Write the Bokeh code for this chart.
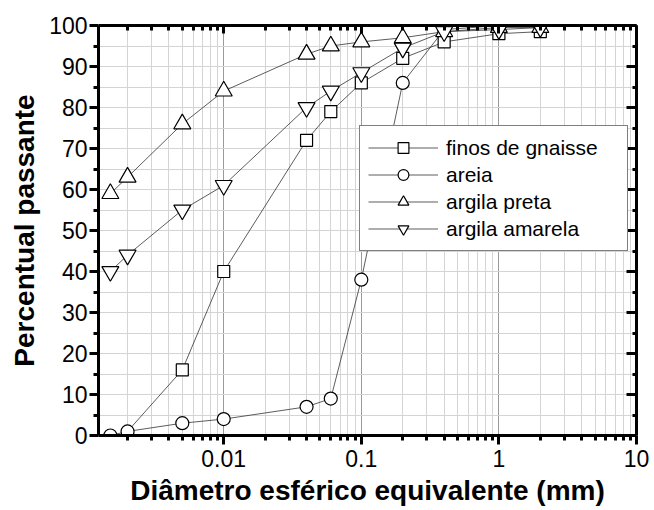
from bokeh.plotting import figure
from bokeh.models import (FixedTicker, LogAxis, LinearAxis, Legend, LegendItem,
                          ColumnDataSource, Range1d, CDSView, IndexFilter)
from bokeh.embed import file_html
from bokeh.resources import INLINE

# ---- data ----
diam_finos = [0.002, 0.005, 0.01, 0.04, 0.06, 0.1, 0.2, 0.4, 1, 2]
pass_finos = [1, 16, 40, 72, 79, 86, 92, 96, 98, 98.5]

diam_areia = [0.0015, 0.002, 0.005, 0.01, 0.04, 0.06, 0.1, 0.2, 0.4, 1, 2]
pass_areia = [0, 1, 3, 4, 7, 9, 38, 86, 99, 100, 100]

diam_preta = [0.0015, 0.002, 0.005, 0.01, 0.04, 0.06, 0.1, 0.2, 0.4, 1, 2]
pass_preta = [59, 63, 76, 84, 93, 95, 96, 97, 98.5, 99.5, 99.5]

diam_amarela = [0.0015, 0.002, 0.005, 0.01, 0.04, 0.06, 0.1, 0.2, 0.4, 1, 2]
pass_amarela = [40, 44, 55, 61, 80, 84, 88.5, 94.5, 98.5, 99, 99.5]

series_names = ["finos de gnaisse", "areia", "argila preta", "argila amarela"]

x_ticks = [0.01, 0.1, 1, 10]
x_tick_labels = ["0.01", "0.1", "1", "10"]
x_minor_ticks = [0.002, 0.003, 0.004, 0.005, 0.006, 0.007, 0.008, 0.009,
                 0.02, 0.03, 0.04, 0.05, 0.06, 0.07, 0.08, 0.09,
                 0.2, 0.3, 0.4, 0.5, 0.6, 0.7, 0.8, 0.9,
                 2, 3, 4, 5, 6, 7, 8, 9]
y_ticks = [0, 10, 20, 30, 40, 50, 60, 70, 80, 90, 100]
y_minor_ticks = [5, 15, 25, 35, 45, 55, 65, 75, 85, 95]

FONT = "Liberation Sans"

p = figure(x_axis_type="log", output_backend="svg", toolbar_location=None,
           x_range=Range1d(0.00123, 10), y_range=Range1d(0, 100),
           frame_width=538, frame_height=410,
           min_border_left=98, min_border_right=16, min_border_top=25,
           min_border_bottom=50)
p.background_fill_color = "white"
p.border_fill_color = "white"
p.outline_line_color = None

xt = FixedTicker(ticks=x_ticks, minor_ticks=x_minor_ticks)
yt = FixedTicker(ticks=y_ticks, minor_ticks=y_minor_ticks)

# bottom axis
xa = p.xaxis[0]
xa.ticker = xt
xa.major_label_overrides = dict(zip(x_ticks, x_tick_labels))
xa.axis_label = "Diâmetro esférico equivalente (mm)"
# left axis
ya = p.yaxis[0]
ya.ticker = yt
ya.axis_label = "Percentual passante"

for ax in (xa, ya):
    ax.axis_line_width = 3
    ax.axis_line_color = "black"
    ax.major_tick_in = 0
    ax.major_tick_out = 9
    ax.minor_tick_in = 0
    ax.minor_tick_out = 5
    ax.major_tick_line_width = 3
    ax.minor_tick_line_width = 3
    ax.major_label_text_font = FONT
    ax.major_label_text_font_size = "23px"
    ax.major_label_text_color = "black"
    ax.axis_label_text_font = FONT
    ax.axis_label_text_font_size = "28px"
    ax.axis_label_text_font_style = "bold"
    ax.axis_label_text_color = "black"
xa.major_label_standoff = 5
xa.axis_label_standoff = 5
ya.major_label_standoff = 2
ya.axis_label_standoff = 6

# top and right axes (ticks inward, labels hidden)
top = LogAxis(ticker=xt)
right = LinearAxis(ticker=yt)
for ax, mj, mn in ((top, 8, 5), (right, 10, 4)):
    ax.axis_line_width = 3
    ax.axis_line_color = "black"
    ax.major_tick_in = mj
    ax.major_tick_out = 0
    ax.minor_tick_in = mn
    ax.minor_tick_out = 0
    ax.major_tick_line_width = 3
    ax.minor_tick_line_width = 3
    ax.major_label_text_font_size = "1px"
    ax.major_label_text_alpha = 0
    ax.major_label_standoff = 0
p.add_layout(top, "above")
p.add_layout(right, "right")

# grid
p.xgrid.ticker = xt
p.ygrid.ticker = yt
p.xgrid.grid_line_color = "#9a9a9a"
p.xgrid.grid_line_width = 1
p.xgrid.minor_grid_line_color = "#d4d4d4"
p.xgrid.minor_grid_line_width = 1
p.ygrid.grid_line_color = "#d4d4d4"
p.ygrid.grid_line_width = 1
p.ygrid.minor_grid_line_color = "#d4d4d4"
p.ygrid.minor_grid_line_width = 1

# series
specs = [
    (diam_finos, pass_finos, "square", 12, 1),
    (diam_areia, pass_areia, "circle", 13, 0),
    (diam_preta, pass_preta, "triangle", 17, 0),
    (diam_amarela, pass_amarela, "inverted_triangle", 17, 0),
]
sources = []
line_rs = []
for xs, ys, _, _, _ in specs:
    src = ColumnDataSource(data=dict(x=xs, y=ys))
    sources.append(src)
    line_rs.append(p.line("x", "y", source=src, line_color="#333333", line_width=0.8))

items = []
for (xs, ys, marker, size, start), src, lr, name in zip(specs, sources, line_rs, series_names):
    view = CDSView(filter=IndexFilter(list(range(start, len(xs)))))
    sr = p.scatter("x", "y", source=src, view=view, marker=marker, size=size,
                   fill_color="white", line_color="black", line_width=1.2)
    items.append(LegendItem(label=name, renderers=[lr, sr]))

legend = Legend(items=items, location=(261, 184),
                glyph_width=70, glyph_height=27, label_height=27, spacing=0,
                padding=8, margin=0, label_standoff=8, label_width=173,
                label_text_font=FONT, label_text_font_size="21px",
                label_text_color="black",
                border_line_color="black", border_line_width=1.5,
                background_fill_color="white", background_fill_alpha=1.0)
p.add_layout(legend)

open("out.html", "w").write(file_html(p, INLINE))
